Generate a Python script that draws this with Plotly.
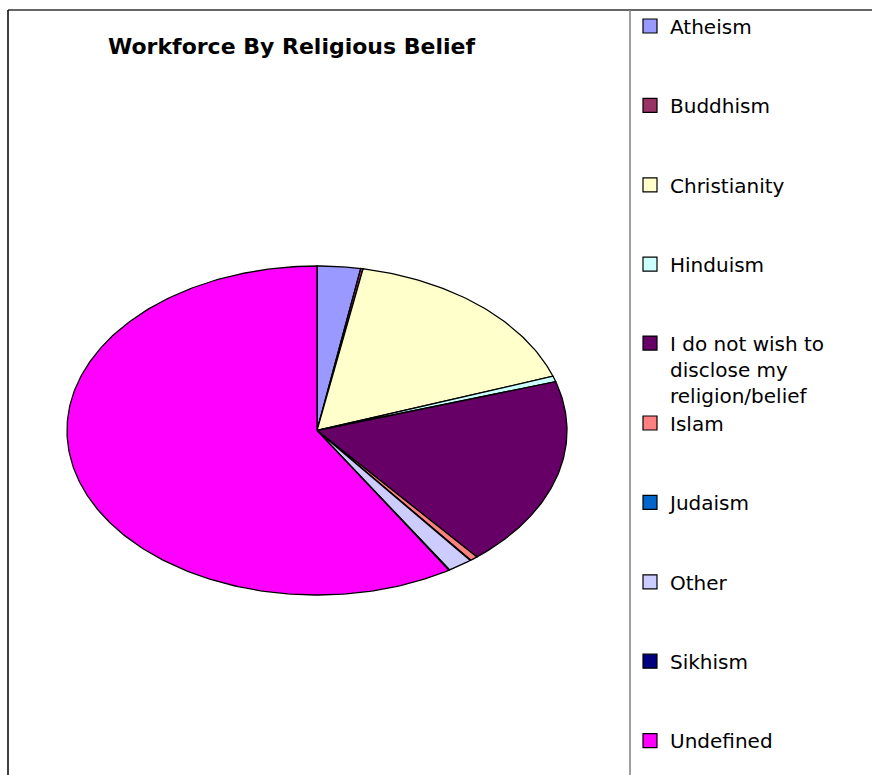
import numpy as np
import plotly.graph_objects as go

# ---- data ----
categories = ["Atheism", "Buddhism", "Christianity", "Hinduism",
              "I do not wish to disclose my religion/belief", "Islam",
              "Judaism", "Other", "Sikhism", "Undefined"]
legend_labels = ["Atheism", "Buddhism", "Christianity", "Hinduism",
                 "I do not wish to<br>disclose my<br>religion/belief", "Islam",
                 "Judaism", "Other", "Sikhism", "Undefined"]
values = [2.8, 0.15, 16.7, 0.55, 18.75, 0.5, 0.05, 1.6, 0.05, 58.85]
colors = ["#9999FF", "#993366", "#FFFFCC", "#CCFFFF", "#660066",
          "#FF8080", "#0066CC", "#CCCCFF", "#000080", "#FF00FF"]
title_text = "Workforce By Religious Belief"

# ---- layout constants (pixel space) ----
W, H = 872, 775
CX, CY, RX, RY = 317, 430.5, 250, 164.5
FONT = "DejaVu Sans"

fig = go.Figure()

total = float(sum(values))
start = 0.0
for name, v, c in zip(categories, values, colors):
    a0 = start / total * 2 * np.pi
    a1 = (start + v) / total * 2 * np.pi
    start += v
    n = max(3, int(np.ceil((a1 - a0) / (2 * np.pi) * 400)) + 1)
    t = np.linspace(a0, a1, n)
    xs = np.concatenate([[CX], CX + RX * np.sin(t), [CX]])
    ys = np.concatenate([[CY], CY - RY * np.cos(t), [CY]])
    fig.add_trace(go.Scatter(
        x=xs, y=ys, mode="lines", fill="toself", fillcolor=c,
        line=dict(color="black", width=1.3), name=name,
        showlegend=False, hoverinfo="name"))

# legend entries, one legend per item to reproduce the spaced column
legend_layouts = {}
step = 79.4
for i, (lab, c) in enumerate(zip(legend_labels, colors)):
    key = "legend" if i == 0 else f"legend{i+1}"
    yc = 26 + i * step
    valign = "middle"
    if "<br>" in lab:
        yc += 25.5
        valign = "top"
    fig.add_trace(go.Scatter(
        x=[None], y=[None], mode="markers", name=lab,
        marker=dict(symbol="square", size=14, color=c,
                    line=dict(color="black", width=1.2)),
        legend=key, showlegend=True))
    legend_layouts[key] = dict(
        x=630 / W, xanchor="left", y=1 - yc / H, yanchor="middle",
        bgcolor="rgba(0,0,0,0)", borderwidth=0, valign=valign,
        font=dict(family=FONT, size=20, color="black"),
        itemsizing="trace")

fig.update_layout(
    width=W, height=H, margin=dict(l=0, r=0, t=0, b=0),
    paper_bgcolor="white", plot_bgcolor="white",
    xaxis=dict(range=[0, W], visible=False, fixedrange=True, domain=[0, 1]),
    yaxis=dict(range=[H, 0], visible=False, fixedrange=True, domain=[0, 1]),
    showlegend=True,
    annotations=[dict(
        text="<b>" + title_text + "</b>", x=291, y=46, xref="x", yref="y",
        xanchor="center", yanchor="middle", showarrow=False,
        font=dict(family=FONT, size=22, color="black"))],
    shapes=[
        dict(type="line", xref="x", yref="y", x0=8, x1=W, y0=10, y1=10,
             line=dict(color="#333333", width=1.5)),
        dict(type="line", xref="x", yref="y", x0=8, x1=8, y0=10, y1=H,
             line=dict(color="black", width=1.5)),
        dict(type="line", xref="x", yref="y", x0=630, x1=630, y0=10, y1=H,
             line=dict(color="#808080", width=1.5)),
    ],
    **legend_layouts,
)

fig.write_html("out.html")
